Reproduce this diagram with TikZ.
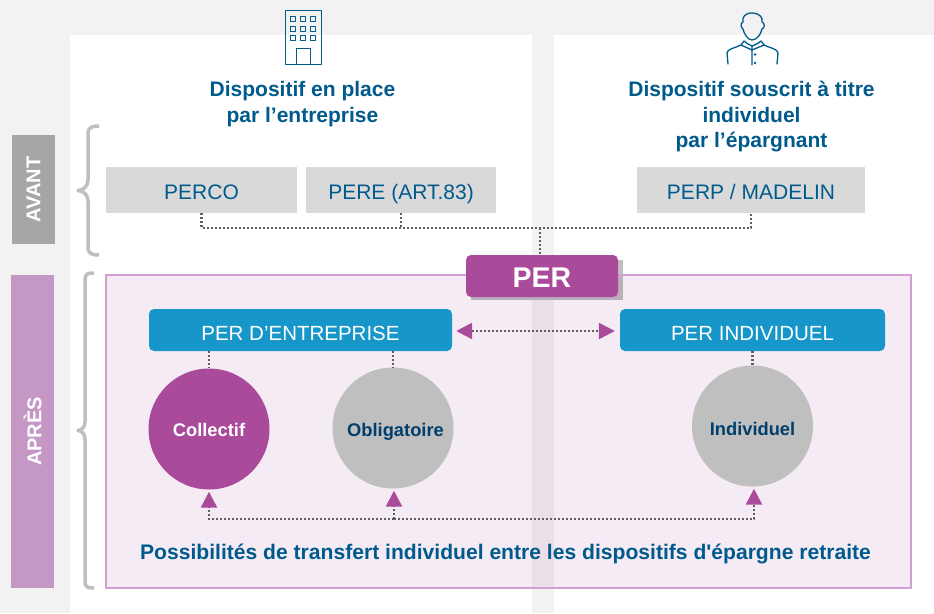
\documentclass[tikz,border=0pt]{standalone}
\usepackage{fontspec}
\setmainfont{Liberation Sans}[Ligatures=TeXOff]
\usetikzlibrary{arrows.meta}
\definecolor{pageGrey}{HTML}{F2F2F2}
\definecolor{inkBlue}{HTML}{005A8C}
\definecolor{darkBlue}{HTML}{003F6B}
\definecolor{perPurple}{HTML}{A94A9B}
\definecolor{tintPurple}{HTML}{9B2391}
\definecolor{frameMauve}{HTML}{D29FD2}
\definecolor{sideMauve}{HTML}{C497C4}
\definecolor{sideGrey}{HTML}{A6A6A6}
\definecolor{boxGrey}{HTML}{D9D9D9}
\definecolor{braceGrey}{HTML}{BFBFBF}
\definecolor{skyBlue}{HTML}{1696C9}
\definecolor{dotGrey}{HTML}{5F5F5F}
\begin{document}
\begin{tikzpicture}[
        x=1pt,
        y=-1pt,
        sidebox/.style={minimum height=43pt, inner sep=0pt, text=white, rotate=90,
          font=\fontsize{20}{24}\selectfont\bfseries},
        oldbox/.style={fill=boxGrey, minimum height=46pt, inner sep=0pt, text=inkBlue,
          text height=19pt, text depth=0pt, font=\fontsize{21}{24}\selectfont},
        newbox/.style={fill=skyBlue, rounded corners=5pt, minimum height=42pt, inner sep=0pt,
          text=white, text height=20pt, text depth=0pt, font=\fontsize{20.5}{24}\selectfont},
        bubble/.style={circle, minimum size=121pt, inner sep=0pt, text depth=0pt,
          font=\fontsize{18.3}{20}\selectfont\bfseries},
        heading/.style={align=center, text=inkBlue, font=\fontsize{21}{25.5}\selectfont\bfseries},
        dotline/.style={draw=dotGrey, line width=2.5pt, dash pattern=on 2pt off 2pt},
        transfer/.style={dotline, -{Triangle[length=16pt, width=16pt, color=perPurple, sep=2pt]}},
        brace/.style={draw=braceGrey, line width=3.5pt, line join=round},
        icon/.style={draw=inkBlue, line width=1.3pt, line cap=round, line join=round}
      ]
      \useasboundingbox (0,0) rectangle (934,613);
      \fill[pageGrey] (0,0) rectangle (934,613);
      \fill[white] (70,35) rectangle (532,613);
      \fill[white] (554,35) rectangle (934,613);

      \node[sidebox, fill=sideGrey, minimum width=109pt] (avant) at (33.5,189.5) {AVANT};
      \node[sidebox, fill=sideMauve, minimum width=313pt] (apres) at (32.5,431.5) {APRÈS};
      \draw[brace] (99,126) .. controls (92,126) and (88,127) .. (88,134) -- (88,180)
        .. controls (88,186) and (84,190) .. (78,190.5)
        .. controls (84,191) and (88,195) .. (88,201) -- (88,247)
        .. controls (88,254) and (92,255) .. (99,255);
      \draw[brace] (94,273) .. controls (87,273) and (85,274) .. (85,280) -- (85,422)
        .. controls (85,427) and (82,430) .. (78,430.5)
        .. controls (82,431) and (85,434) .. (85,439) -- (85,581)
        .. controls (85,587) and (87,588) .. (94,588);

      \fill[black!25] (471,260) rectangle (623,300);
      \filldraw[draw=frameMauve, line width=2pt, fill=tintPurple, fill opacity=.09]
        (106,275) rectangle (911,588);

      \draw[icon, line width=1pt] (285,10.5) rectangle (321,64);
      \draw[icon, line width=1pt] (296,48) rectangle (310,64);
      \foreach \wx in {293,303,313}
        \foreach \wy in {19,28.5,38}
          \draw[icon, line width=1pt] (\wx-2.5,\wy-2.5) rectangle (\wx+2.5,\wy+2.5);

      \draw[icon]
        (752,13) .. controls (745,13) and (742,17) .. (743,22)
        .. controls (740,23) and (741,28) .. (743,29)
        .. controls (744,34) and (748,40) .. (752,40)
        .. controls (757,40) and (761,34) .. (762,29)
        .. controls (765,28) and (765,23) .. (762,22)
        .. controls (763,17) and (759,13) .. (752,13);
      \draw[icon]
        (728,64) -- (727,53) .. controls (727,49) and (735,48) .. (741,45)
        -- (744,41) .. controls (746,43) and (750,45) .. (752,46)
        .. controls (755,45) and (759,43) .. (761,41)
        -- (764,45) .. controls (770,48) and (778,49) .. (778,53) -- (777,64);
      \draw[icon] (741,45) -- (752,50) -- (764,45) (752,46) -- (752,65);
      \fill[inkBlue] (755,54.5) circle (1.3pt) (755,63) circle (1.3pt);

      \node[heading] (left) at (302.5,104) {Dispositif en place\\par l’entreprise};
      \node[heading] (right) at (751.5,117) {Dispositif souscrit à titre\\individuel\\par l’épargnant};

      \node[oldbox, minimum width=191pt] (perco) at (201.5,190) {PERCO};
      \node[oldbox, minimum width=190pt] (pere) at (401,190) {PERE (ART.83)};
      \node[oldbox, minimum width=228pt] (perp) at (751,190) {PERP / MADELIN};
      \node[fill=perPurple, rounded corners=5pt, minimum width=152pt, minimum height=42pt,
        inner sep=0pt, text=white, text height=23pt, text depth=0pt,
        font=\fontsize{28.5}{32}\selectfont\bfseries] (per) at (542,276) {PER};

      \node[newbox, minimum width=303pt] (entreprise) at (300.5,330) {PER D’ENTREPRISE};
      \node[newbox, minimum width=265pt] (individuel) at (752.5,330) {PER INDIVIDUEL};

      \node[bubble, fill=perPurple, text=white, text height=14pt] (collectif) at (209,429) {Collectif};
      \node[bubble, fill=braceGrey, text=darkBlue, text height=16pt] (obligatoire) at (393,428) {\hspace{5pt}Obligatoire};
      \node[bubble, fill=braceGrey, text=darkBlue, text height=18pt] (indiv) at (752.5,426) {Individuel};

      \node[text=inkBlue, font=\fontsize{21.1}{24}\selectfont\bfseries] (transfert) at (505.5,554)
        {Possibilités de transfert individuel entre les dispositifs d'épargne retraite};

      \coordinate (bus) at (540,228);
      \coordinate (low) at (394,519);
      \draw[dotline] (perco.south) |- (bus) -| (perp.south);
      \draw[dotline] (pere.south) -- (pere.south |- bus);
      \draw[dotline] (bus) -- (bus |- per.north);

      \draw[dotline] (collectif.north |- entreprise.south) -- (collectif.north);
      \draw[dotline] (obligatoire.north |- entreprise.south) -- (obligatoire.north);
      \draw[dotline] (individuel.south) -- (indiv.north);

      \draw[dotline, {Triangle[length=16pt, width=16pt, color=perPurple]}-{Triangle[length=16pt, width=16pt, color=perPurple]}]
        ([xshift=4pt,yshift=-1pt]entreprise.east) -- ([xshift=-5pt,yshift=-1pt]individuel.west);

      \draw[transfer] (low) -| (collectif.south);
      \draw[transfer] (low) -- (low |- obligatoire.south);
      \draw[transfer] (low) -| (indiv.south -| 754,0);
    \end{tikzpicture}
\end{document}
